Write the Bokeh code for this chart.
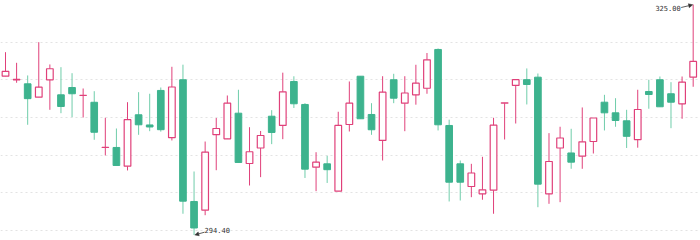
from bokeh.plotting import figure
from bokeh.models import ColumnDataSource, Range1d, Grid, FixedTicker, Label, Arrow, NormalHead
from bokeh.embed import file_html
from bokeh.resources import INLINE

opens = [315.48, 315.00, 314.47, 312.70, 315.00, 313.01, 313.98, 312.92, 312.02, 306.02,
         306.02, 303.54, 310.36, 309.01, 313.59, 307.32, 315.01, 298.85, 297.69, 307.72,
         307.17, 310.57, 303.89, 305.95, 310.17, 308.94, 314.78, 311.73, 303.40, 303.85,
         300.22, 309.07, 315.48, 310.40, 306.95, 315.01, 311.90, 313.01, 313.88, 319.03,
         308.94, 303.85, 300.84, 299.87, 300.35, 311.90, 314.25, 315.02, 315.35, 299.87,
         305.95, 305.29, 304.86, 306.81, 312.03, 310.62, 309.56, 307.05, 313.45, 315.01,
         313.15, 311.82, 315.35]
closes = [316.11, 315.05, 312.50, 314.02, 316.47, 311.46, 313.15, 312.93, 308.04, 306.03,
          303.63, 309.71, 309.03, 308.74, 308.38, 314.05, 298.89, 295.33, 305.39, 308.54,
          311.90, 304.03, 305.45, 307.61, 308.01, 313.41, 311.82, 303.14, 304.07, 303.07,
          308.94, 311.90, 309.83, 308.37, 313.36, 312.56, 313.25, 314.55, 317.66, 309.03,
          301.41, 301.41, 302.63, 300.40, 308.98, 311.95, 315.02, 314.38, 301.15, 304.16,
          307.28, 304.07, 306.77, 309.93, 310.62, 309.60, 307.50, 311.06, 313.05, 311.42,
          312.03, 314.69, 317.44]
highs = [318.67, 317.26, 315.58, 320.00, 317.04, 316.68, 315.88, 313.85, 313.49, 309.96,
         308.54, 312.03, 313.36, 313.15, 313.98, 316.73, 317.01, 302.83, 306.81, 309.93,
         312.92, 313.68, 308.71, 308.21, 310.97, 315.95, 315.47, 311.90, 305.39, 304.92,
         310.76, 314.78, 315.48, 311.90, 315.48, 315.80, 315.48, 317.00, 318.56, 319.16,
         309.71, 304.29, 303.85, 304.78, 309.96, 311.95, 315.02, 316.51, 315.84, 307.92,
         308.77, 308.50, 311.33, 309.93, 313.01, 312.56, 311.02, 313.68, 315.01, 315.44,
         314.69, 315.44, 325.00]
lows = [315.48, 314.61, 309.03, 312.70, 311.02, 310.57, 310.04, 310.00, 307.04, 304.96,
        303.63, 302.97, 307.70, 308.18, 308.12, 306.95, 297.22, 294.40, 297.03, 303.00,
        307.17, 304.03, 300.97, 302.08, 306.46, 307.12, 311.26, 301.97, 300.22, 301.31,
        300.22, 308.14, 309.83, 307.70, 304.29, 311.90, 308.18, 311.70, 313.15, 308.28,
        298.85, 298.98, 299.42, 299.08, 297.22, 307.08, 309.20, 311.73, 298.09, 298.54,
        298.76, 303.19, 303.19, 305.22, 308.28, 308.77, 305.95, 305.99, 311.16, 311.42,
        308.58, 309.83, 314.08]
days = list(range(len(opens)))
grid_levels = [295, 300, 305, 310, 315, 320]

UP = "#e0407a"
DOWN = "#3db38e"
DOWN_WICK = "#6fcdaa"

W, H = 700, 240
x0, x1 = -0.451, 62.66
y0, y1 = 293.67, 325.53
XPX = W / (x1 - x0)
YPX = H / (y1 - y0)

up_idx = [i for i in days if closes[i] >= opens[i]]
dn_idx = [i for i in days if closes[i] < opens[i]]

def src(idx):
    return ColumnDataSource(dict(
        x=[days[i] for i in idx],
        top=[max(opens[i], closes[i]) for i in idx],
        bottom=[min(opens[i], closes[i]) for i in idx],
        high=[highs[i] for i in idx],
        low=[lows[i] for i in idx],
    ))

s_up, s_dn = src(up_idx), src(dn_idx)

p = figure(width=W, height=H, output_backend="svg", toolbar_location=None,
           x_axis_type=None, y_axis_type=None,
           x_range=Range1d(x0, x1), y_range=Range1d(y0, y1), min_border=0)
p.outline_line_color = None
p.background_fill_color = "white"
p.border_fill_color = "white"

p.add_layout(Grid(dimension=1, ticker=FixedTicker(ticks=grid_levels),
                  grid_line_color="#e3e3e3", grid_line_dash="2 3", grid_line_width=1))

p.segment("x", "high", "x", "low", source=s_dn, line_color=DOWN_WICK, line_width=1)
p.segment("x", "high", "x", "low", source=s_up, line_color=UP, line_width=1)
p.vbar(x="x", top="top", bottom="bottom", width=0.6, source=s_dn,
       fill_color=DOWN, line_color=DOWN, line_width=1)
p.vbar(x="x", top="top", bottom="bottom", width=0.6, source=s_up,
       fill_color="white", line_color=UP, line_width=1.2)

# max / min markers
imax = max(days, key=lambda i: highs[i])
imin = min(days, key=lambda i: lows[i])
hv, lv = highs[imax], lows[imin]

TXT = "#333333"
p.add_layout(Arrow(end=NormalHead(size=4, fill_color=TXT, line_color=TXT, line_width=0.5),
                   x_start=imax - 12 / XPX, y_start=hv - 3 / YPX,
                   x_end=imax - 0.5 / XPX, y_end=hv - 0.3 / YPX,
                   line_color=TXT, line_width=0.8))
p.add_layout(Label(x=imax - 12.5 / XPX, y=hv - 3.3 / YPX, text=f"{hv:.2f}",
                   text_font="DejaVu Sans Mono", text_font_size="7px",
                   text_color=TXT, text_align="right", text_baseline="middle"))

p.add_layout(Arrow(end=NormalHead(size=4, fill_color=TXT, line_color=TXT, line_width=0.5),
                   x_start=imin + 10.5 / XPX, y_start=lv + 2.8 / YPX,
                   x_end=imin + 0.8 / XPX, y_end=lv + 0.1 / YPX,
                   line_color=TXT, line_width=0.8))
p.add_layout(Label(x=imin + 10.5 / XPX, y=lv + 4.8 / YPX, text=f"{lv:.2f}",
                   text_font="DejaVu Sans Mono", text_font_size="7px",
                   text_color=TXT, text_align="left", text_baseline="middle"))

open("out.html", "w").write(file_html(p, INLINE))
